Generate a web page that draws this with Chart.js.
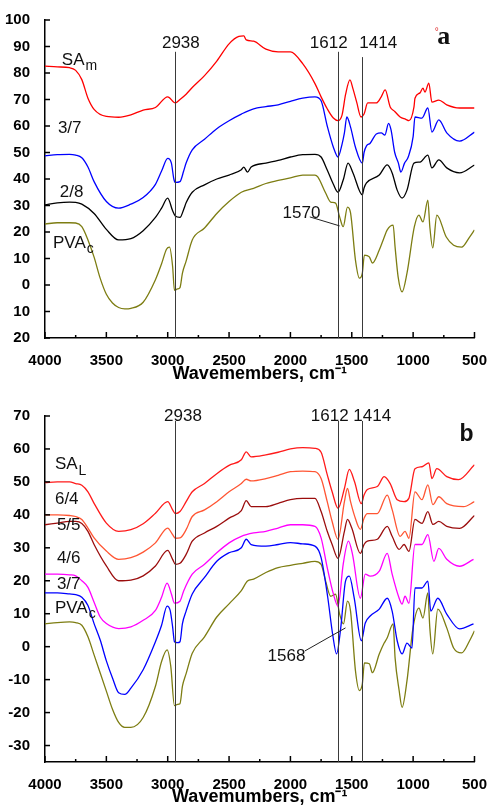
<!DOCTYPE html>
<html>
<head>
<meta charset="utf-8">
<script src="https://cdn.jsdelivr.net/npm/chart.js@4.4.0/dist/chart.umd.min.js"></script>
<style>
html, body { margin: 0; padding: 0; background: #fff; }
#wrapA { position: absolute; left: 0; top: 0; width: 493px; height: 400px; }
#wrapB { position: absolute; left: 0; top: 400px; width: 493px; height: 410px; }
</style>
</head>
<body>
<div id="wrapA"><canvas id="chartA"></canvas></div>
<div id="wrapB"><canvas id="chartB"></canvas></div>
<script>
// ---- panel a: wavenumbers (cm-1) and transmittance ----
var aRedWn = [4000,3900,3800,3750,3700,3650,3600,3500,3400,3300,3200,3100,3000,2938,2900,2850,2800,2700,2600,2500,2420,2380,2360,2300,2200,2100,2000,1900,1800,1750,1700,1650,1612,1580,1550,1515,1490,1460,1425,1400,1370,1300,1260,1228,1187,1150,1106,1060,1034,993,985,944,920,904,872,847,791,726,621,500];
var aRedT = [82.6,82.3,82,81,77.5,70.5,66.3,63.6,63.3,64.2,66,67,71,68.7,70,72,74.5,79,84.5,91,93.8,94,92.5,92,89,88,88,83.5,76,71,66.5,63,62,64,72,77.4,74,69,63.4,64.5,68.7,68.7,71,73.6,67.2,65.5,63.4,62.5,62,67.2,70.5,72.5,74.3,72.8,76.2,69,69.8,68,66.8,66.8];

var aBlueWn = [4000,3900,3800,3750,3700,3650,3600,3500,3400,3300,3200,3100,3050,3000,2970,2950,2938,2900,2870,2850,2800,2700,2600,2500,2400,2300,2200,2100,2000,1900,1800,1750,1700,1650,1612,1580,1560,1540,1510,1470,1414,1400,1380,1350,1300,1260,1230,1200,1180,1150,1120,1100,1070,1040,1000,985,928,880,847,791,726,621,500];
var aBlueT = [48.7,49.2,49.3,49,48,44.5,39,31.5,29,30.5,33,38,43,47.8,46,40,38.7,39,43,46,51,55,59,62,64.5,66.5,67.3,68,69.3,70.5,71,69.5,60,52,48.3,53,57.4,63.4,59.6,52,46,50,52.5,53.5,57,57.4,56.6,61,58.5,50,46,42.6,46,48.3,56,63.4,63,66.8,57.7,62.3,57.4,54.3,57.7];

var aBlackWn = [4000,3900,3800,3750,3700,3600,3500,3400,3300,3200,3100,3050,3000,2960,2938,2900,2870,2850,2800,2700,2600,2500,2400,2380,2350,2320,2200,2100,2000,1900,1800,1750,1700,1650,1612,1570,1530,1490,1414,1400,1380,1276,1211,1171,1130,1090,1050,993,944,880,847,791,726,621,500];
var aBlackT = [30.2,31,31.3,31.2,30.5,27,21,17,17.5,20.5,25.5,29,32.8,28,26,25.5,28.5,31,35,37.8,40,41.5,43.5,44.5,42.6,44.5,46,47,48.3,49.2,49.3,48.3,43.4,38,35,39.6,46,42.3,34,36.6,38.5,41.5,45.3,42.3,35.8,32.8,35.8,46,46.4,49,44.2,47.2,44.2,42.3,45.3];

var aOliveWn = [4000,3900,3800,3750,3700,3650,3600,3550,3500,3450,3400,3350,3300,3200,3100,3050,3010,2985,2960,2945,2920,2900,2880,2850,2800,2700,2600,2500,2400,2300,2200,2100,2000,1900,1800,1777,1713,1672,1632,1599,1570,1535,1510,1470,1438,1414,1397,1357,1332,1276,1244,1211,1163,1147,1122,1090,1050,990,953,920,880,864,840,807,730,670,605,540,500];
var aOliveT = [23,23.5,23.5,23.4,22,17,10.5,2.5,-3.5,-6.8,-8.5,-9,-8.8,-6.5,2,8,13.5,14.3,7,-2,-1.5,-1,4.5,9,17,21.5,27,31.5,35,36.5,38.3,39.5,40.4,41.5,41.5,40.8,34.7,31.3,30.9,25.7,22,29.4,27.2,9.4,2.6,4.5,11.3,10.6,8.3,13.2,17,20.8,22.6,14.3,3,-2.6,4.5,22,26.4,23.8,32,22,14,26.4,18.1,15,14.3,18.1,20.8];

// ---- panel b ----
var bRedWn = [4000,3900,3800,3750,3700,3650,3600,3500,3400,3300,3200,3100,3000,2960,2938,2900,2850,2800,2700,2600,2500,2400,2360,2320,2200,2100,2000,1900,1800,1750,1700,1660,1612,1560,1520,1478,1422,1400,1373,1292,1236,1187,1130,1074,1035,985,928,872,847,807,726,630,500];
var bRedT = [49.8,50,50,49.5,49,47,43.5,37.5,35,35.5,37.3,40.5,44,41.5,40.4,41,44,47,49.5,52.5,55,56.7,59.1,57.6,58.2,59,60,60.4,60.2,59,52.2,47,42,48,53.8,50.1,43.4,46,47.7,48.6,51.6,49.5,44.6,44,45,54,54.6,55.8,51,54,51.6,50.7,55.2];

var bTomWn = [4000,3900,3800,3750,3700,3650,3600,3500,3400,3300,3200,3100,3000,2960,2938,2900,2850,2800,2700,2600,2500,2400,2360,2320,2200,2100,2000,1900,1800,1750,1700,1660,1612,1560,1535,1510,1480,1430,1400,1373,1292,1211,1171,1106,1066,1034,985,928,880,839,791,726,589,500];
var bTomT = [40,40,39.8,39.5,38.6,36,33,29,26.5,27,28.7,31.5,36,34,32.9,33,35.5,39.5,41.5,44,47,49.5,50.8,50.3,51,52,53.1,53.3,53.1,51,44,38,32.6,44,48,44,40,35.6,39,40.4,40.4,46,41.6,33.5,35,32.9,47,44.6,49.1,43.1,45.5,43.4,42.5,44];

var bMarWn = [4000,3900,3800,3750,3700,3650,3600,3500,3400,3300,3200,3100,3000,2960,2938,2900,2850,2800,2700,2600,2500,2400,2360,2320,2200,2100,2000,1900,1800,1750,1700,1660,1612,1560,1535,1500,1430,1400,1373,1292,1211,1171,1114,1074,1034,985,928,880,839,791,726,621,500];
var bMarT = [37,37.5,38,38,37.4,35,31,24.5,20,20.2,21.5,24.5,29.2,26.5,25,25.3,28,32,34.5,36.5,39,41.3,44.3,42.5,42.5,43.5,44.6,45,45,41,35,31,26.8,35,38.6,36,28.3,31,32,32.6,36.5,33.5,29.5,31,28.9,38.6,37.4,41,37.1,38,36.5,35.9,39.8];

var bMagWn = [4000,3900,3800,3750,3700,3650,3600,3550,3500,3400,3300,3200,3100,3050,3005,2970,2945,2900,2870,2800,2700,2600,2500,2400,2300,2200,2100,2000,1900,1800,1750,1700,1650,1612,1570,1527,1494,1430,1390,1350,1276,1211,1171,1114,1090,1066,1034,985,928,880,831,791,726,621,508];
var bMagT = [22,22,21.8,21.5,20,18,13.5,9,7,5.5,6,8,11,15,19.3,16,13.2,13.8,16.9,22,25,28.5,31.5,33.5,34.5,35,36,37,37,36.5,33,24,16,12.3,25,32,28,14.7,22,21.4,22.9,28.3,22,14.7,12.9,15.3,13.2,31,31,34,25.9,29.8,26.5,24.4,26.5];

var bBlueWn = [4000,3900,3800,3750,3700,3650,3600,3550,3500,3450,3400,3350,3300,3200,3100,3050,3005,2980,2960,2945,2920,2900,2880,2850,2800,2700,2600,2500,2400,2360,2320,2200,2100,2000,1900,1800,1750,1696,1656,1624,1590,1551,1520,1480,1422,1390,1350,1276,1211,1171,1130,1090,1050,1009,985,928,880,856,799,726,621,508];
var bBlueT = [16.3,16.3,16,15.8,15,12.5,7,2,-4.3,-9.5,-14,-14.5,-12.6,-7,1.5,6.5,12.3,11,6,1.5,1.2,1.5,7,10.8,16,21,25.9,28.5,30,32.6,31,30.5,31,31.6,31.2,30.5,27,15,3.8,-2.2,5.7,19.9,21.4,14.7,1.8,7.2,9.3,11.4,14.7,10.8,1.8,-2.2,1.1,-0.4,17.8,17.8,19.9,10.8,14.7,9.9,5.4,6.9];

var bOliveWn = [4000,3900,3800,3750,3700,3650,3600,3550,3500,3450,3400,3350,3300,3200,3100,3050,3005,2975,2945,2920,2900,2880,2850,2800,2700,2600,2500,2400,2350,2300,2200,2100,2000,1900,1800,1750,1713,1672,1632,1599,1568,1535,1510,1470,1438,1414,1397,1357,1332,1276,1236,1211,1163,1147,1114,1090,1050,1001,953,920,880,864,840,799,726,670,605,540,500];
var bOliveT = [6.9,7.3,7.5,7.3,6.5,3,-2.5,-8,-13.5,-19,-23,-24.5,-24.5,-21.5,-12,-4.5,-1,-6,-17.9,-17.5,-17.3,-12,-8.2,-2,3,9,13,17,19.9,20.5,22.5,24,24.7,25.3,25.9,25,19.9,15.3,15.9,9.9,6.9,13.8,10.8,-7.3,-13.3,-11.3,-4.9,-5.2,-7.9,-2.2,1.1,2.7,6.9,-3.4,-13.3,-18.4,-10.3,5.7,11.7,8.7,16.3,5.7,-2.2,11.4,5.7,-0.4,-1.9,1.8,4.8];

// marked bands
var bandsA = [2938, 1612, 1414];
var bandsB = [2938, 1612, 1414];

var SANS = '"Liberation Sans", Arial, sans-serif';
var OLIVE = '#7d7d12';

function pts(wn, t) {
    return wn.map(function (w, i) { return { x: w, y: t[i] }; });
}

function line(color, wn, t) {
    return {
        data: pts(wn, t),
        borderColor: color,
        borderWidth: 1.3,
        pointRadius: 0,
        fill: false,
        cubicInterpolationMode: 'monotone'
    };
}

// draws inward ticks, band lines, labels and leaders
var decor = {
    id: 'decor',
    afterDraw: function (chart, args, o) {
        var ctx = chart.ctx, xs = chart.scales.x, ys = chart.scales.y, area = chart.chartArea;
        ctx.save();
        ctx.strokeStyle = '#000';
        ctx.lineWidth = 1.5;
        for (var w = 500; w <= 4000; w += 250) {
            var px = xs.getPixelForValue(w);
            var len = (w % 500 === 0) ? 6 : 3;
            ctx.beginPath(); ctx.moveTo(px, area.bottom); ctx.lineTo(px, area.bottom - len); ctx.stroke();
        }
        ys.ticks.forEach(function (t) {
            var py = ys.getPixelForValue(t.value);
            ctx.beginPath(); ctx.moveTo(area.left, py); ctx.lineTo(area.left + 5, py); ctx.stroke();
        });

        ctx.strokeStyle = '#3a3a3a';
        ctx.lineWidth = 1;
        o.bands.forEach(function (b, i) {
            var px = Math.round(xs.getPixelForValue(b)) + 0.5;
            ctx.beginPath();
            ctx.moveTo(px, ys.getPixelForValue(o.bandTop[i]));
            ctx.lineTo(px, area.bottom);
            ctx.stroke();
        });

        ctx.strokeStyle = '#222';
        o.leaders.forEach(function (l) {
            ctx.beginPath();
            ctx.moveTo(xs.getPixelForValue(l[0]), ys.getPixelForValue(l[1]));
            ctx.lineTo(xs.getPixelForValue(l[2]), ys.getPixelForValue(l[3]));
            ctx.stroke();
        });

        ctx.textBaseline = 'middle';
        o.labels.forEach(function (l) {
            var px = xs.getPixelForValue(l.wn), py = ys.getPixelForValue(l.val);
            ctx.font = (l.font || ('17px ' + SANS));
            ctx.textAlign = l.align || 'left';
            ctx.fillStyle = l.color || '#111';
            ctx.fillText(l.text, px, py);
            if (l.sub) {
                var wd = ctx.measureText(l.text).width;
                ctx.font = '14px ' + SANS;
                ctx.textAlign = 'left';
                ctx.fillText(l.sub, px + wd + 1, py + 6);
            }
        });
        ctx.restore();
    }
};

function options(yMin, yMax, title, titlePad, xHeight, topPad, decorOpts, absLabels) {
    return {
        responsive: true,
        maintainAspectRatio: false,
        animation: false,
        layout: { padding: { left: 0, right: 15, top: topPad, bottom: 0 } },
        plugins: { legend: { display: false }, tooltip: { enabled: false }, decor: decorOpts },
        scales: {
            x: {
                type: 'linear', reverse: true, min: 500, max: 4000,
                grid: { display: false },
                border: { display: true, color: '#000', width: 1.5 },
                ticks: {
                    stepSize: 500, padding: 6, color: '#000',
                    font: { family: SANS, size: 15, weight: 'bold' },
                    callback: function (v) { return String(v); }
                },
                title: { display: true, text: title, color: '#000', padding: { top: 0, bottom: titlePad },
                         font: { family: SANS, size: 18, weight: 'bold' } },
                afterFit: function (s) { s.height = xHeight; }
            },
            y: {
                min: yMin, max: yMax,
                grid: { display: false },
                border: { display: true, color: '#000', width: 1.5 },
                ticks: {
                    stepSize: 10, includeBounds: false, padding: 7, color: '#000',
                    font: { family: SANS, size: 15, weight: 'bold' },
                    callback: function (v) { return String(absLabels ? Math.abs(v) : v); }
                },
                afterBuildTicks: function (s) { s.ticks = s.ticks.filter(function (t) { return t.value % 10 === 0; }); },
                afterFit: function (s) { s.width = 45; }
            }
        }
    };
}

new Chart(document.getElementById('chartA'), {
    type: 'line',
    data: {
        datasets: [
            line('#ff0000', aRedWn, aRedT),
            line('#0000ff', aBlueWn, aBlueT),
            line('#000000', aBlackWn, aBlackT),
            line(OLIVE, aOliveWn, aOliveT)
        ]
    },
    options: options(-20, 100, 'Wavemembers, cm\u207B\u00B9', 15, 62, 20, {
        bands: bandsA,
        bandTop: [88, 88, 86],
        leaders: [[1842, 25.7, 1599, 22.3]],
        labels: [
            { text: 'SA', sub: 'm', wn: 3863, val: 84.9 },
            { text: '3/7', wn: 3895, val: 59.2 },
            { text: '2/8', wn: 3879, val: 35.1 },
            { text: 'PVA', sub: 'c', wn: 3935, val: 15.8 },
            { text: '2938', wn: 2893, val: 91.3, align: 'center' },
            { text: '1612', wn: 1688, val: 91.3, align: 'center' },
            { text: '1414', wn: 1284, val: 91.3, align: 'center' },
            { text: '1570', wn: 1910, val: 27.2, align: 'center' },
            { text: '\u00B0', wn: 807, val: 95.5, align: 'center', color: '#e03030', font: '10px ' + SANS },
            { text: 'a', wn: 750, val: 93.6, align: 'center', font: 'bold 26px "Liberation Serif", "Times New Roman", serif' }
        ]
    }, true),
    plugins: [decor]
});

new Chart(document.getElementById('chartB'), {
    type: 'line',
    data: {
        datasets: [
            line('#ff1a1a', bRedWn, bRedT),
            line('#ff5533', bTomWn, bTomT),
            line('#9b0d0d', bMarWn, bMarT),
            line('#ff00ff', bMagWn, bMagT),
            line('#0000ff', bBlueWn, bBlueT),
            line(OLIVE, bOliveWn, bOliveT)
        ]
    },
    options: options(-35, 70, 'Wavemumbers, cm\u207B\u00B9', 2, 48, 14, {
        bands: bandsB,
        bandTop: [68.5, 68.5, 68.5],
        leaders: [[1882, -1.3, 1551, 5.7]],
        labels: [
            { text: 'SA', sub: 'L', wn: 3919, val: 55.2 },
            { text: '6/4', wn: 3919, val: 44.6 },
            { text: '5/5', wn: 3903, val: 36.8 },
            { text: '4/6', wn: 3903, val: 26.8 },
            { text: '3/7', wn: 3903, val: 19 },
            { text: 'PVA', sub: 'c', wn: 3919, val: 11.7 },
            { text: '2938', wn: 2876, val: 70, align: 'center' },
            { text: '1612', wn: 1680, val: 70, align: 'center' },
            { text: '1414', wn: 1333, val: 70, align: 'center' },
            { text: '1568', wn: 2032, val: -2.8, align: 'center' },
            { text: 'b', wn: 565, val: 64.3, align: 'center', font: 'bold 23px ' + SANS }
        ]
    }, false),
    plugins: [decor]
});
</script>
</body>
</html>
